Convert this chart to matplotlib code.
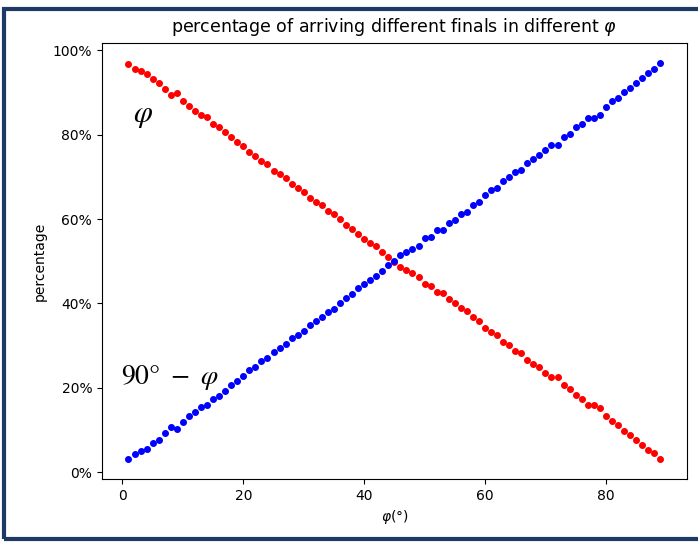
import numpy as np
import matplotlib
matplotlib.use("Agg")
import matplotlib.pyplot as plt
from matplotlib.ticker import PercentFormatter
from matplotlib.patches import Rectangle

# angle phi in degrees
phi = list(range(1, 90))

# percentage arriving at the "phi" final (red)
pct_phi = [
    96.8, 95.6, 95.0, 94.4, 93.1, 92.3, 90.7, 89.3, 89.8, 88.0,
    86.7, 85.6, 84.6, 84.1, 82.5, 81.8, 80.7, 79.4, 78.3, 77.2,
    75.8, 75.0, 73.7, 73.0, 71.4, 70.6, 69.7, 68.2, 67.4, 66.4,
    65.0, 64.1, 63.3, 61.9, 61.2, 60.0, 58.6, 57.7, 56.4, 55.3,
    54.4, 53.5, 52.2, 50.9, 49.9, 48.6, 47.9, 47.2, 46.3, 44.6,
    44.2, 42.6, 42.5, 41.0, 40.2, 38.9, 38.3, 36.8, 35.9, 34.3,
    33.2, 32.6, 30.9, 30.1, 28.8, 28.3, 26.7, 25.7, 24.9, 23.6,
    22.5, 22.5, 20.6, 19.8, 18.3, 17.4, 16.0, 16.0, 15.3, 13.4,
    12.1, 11.3, 9.9, 8.9, 7.7, 6.6, 5.4, 4.5, 3.1,
]
# the other final (blue) is the complement
pct_other = [100 - v for v in pct_phi]

fig = plt.figure(figsize=(6.98, 5.42), dpi=100)
ax = fig.add_axes([0.146, 0.116, 0.838, 0.804])

ax.scatter(phi, pct_phi, color='red', s=16, zorder=3)
ax.scatter(phi, pct_other, color='blue', s=16, zorder=3)

ax.yaxis.set_major_formatter(PercentFormatter(100, decimals=0))
ax.set_xticks([0, 20, 40, 60, 80])
ax.set_yticks([0, 20, 40, 60, 80, 100])

ax.set_title(r'percentage of arriving different finals in different $\varphi$', fontsize=12.5, pad=8)
ax.set_xlabel(r'$\varphi$(°)')
ax.set_ylabel('percentage')

# hand-placed labels on the two curves
ax.text(1.8, 83, r'$\varphi$', fontsize=22, math_fontfamily='stix')
ax.text(-0.3, 21, r'$90°\,\,-\,\,\varphi$', fontsize=20, math_fontfamily='stix')

# dark blue frame around the whole picture (right edge runs off the picture)
fig.patches.append(Rectangle((0.006, 0.006), 1.1, 0.978, transform=fig.transFigure,
                             fill=False, edgecolor='#1d3a64', linewidth=3))

fig.savefig('out.png', dpi=100)
